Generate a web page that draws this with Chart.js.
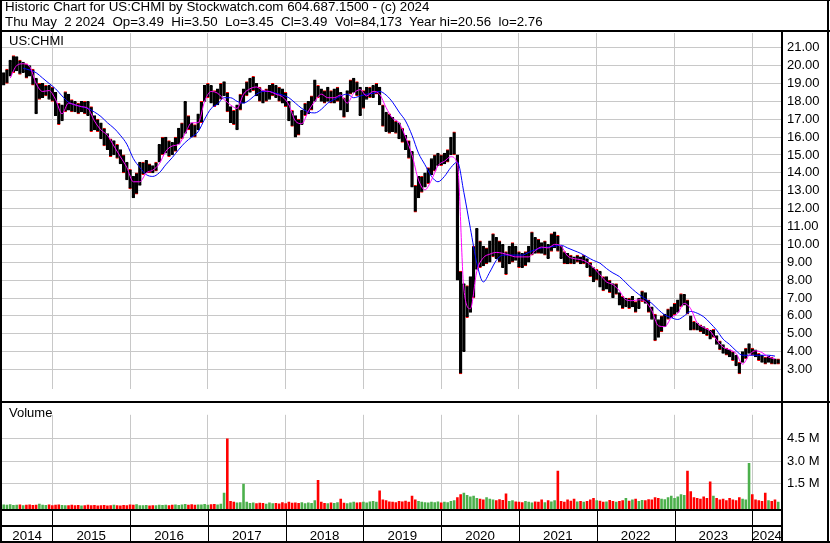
<!DOCTYPE html>
<html>
<head>
<meta charset="utf-8">
<title>US:CHMI historic chart</title>
<script src="https://cdn.jsdelivr.net/npm/chart.js@4.4.1/dist/chart.umd.min.js"></script>
<style>
  body { margin: 0; background: #fff; font-family: "Liberation Sans", Arial, sans-serif; }
  #wrap { position: relative; width: 830px; height: 543px; overflow: hidden; background: #fff; }
  canvas { position: absolute; left: 0; }
  .txt { position: absolute; white-space: pre; color: #000; font-size: 13.33px; line-height: 14px; }
  .ln { position: absolute; background: #000; }
</style>
</head>
<body>
<div id="wrap">
  <canvas id="priceChart" width="830" height="402" style="top:0"></canvas>
  <canvas id="volChart" width="830" height="141" style="top:402px"></canvas>

  <div class="txt" style="left:5px;top:0px">Historic Chart for US:CHMI by Stockwatch.com 604.687.1500 - (c) 2024</div>
  <div class="txt" style="left:5px;top:15px">Thu May  2 2024  Op=3.49  Hi=3.50  Lo=3.45  Cl=3.49  Vol=84,173  Year hi=20.56  lo=2.76</div>
  <div class="txt" style="left:9px;top:34px;font-size:13px">US:CHMI</div>
  <div class="txt" style="left:9px;top:406px;font-size:13px">Volume</div>

  <!-- frame -->
  <div class="ln" style="left:0;top:0;width:830px;height:1px"></div>
  <div class="ln" style="left:0;top:0;width:2px;height:543px"></div>
  <div class="ln" style="left:827px;top:0;width:2px;height:543px"></div>
  <div class="ln" style="left:0;top:30px;width:830px;height:2px"></div>
  <div class="ln" style="left:0;top:401px;width:830px;height:2px"></div>
  <div class="ln" style="left:781px;top:30px;width:2px;height:513px"></div>
  <div class="ln" style="left:0;top:509px;width:782px;height:2px"></div>
  <div class="ln" style="left:0;top:525px;width:782px;height:2px"></div>
  <div class="ln" style="left:0;top:541px;width:830px;height:2px"></div>
</div>

<script>
// time axis: half-month samples from mid May 2014 to Apr 2024
const firstPeriod = 2014.375;
const xMin = 2014.353;
const xMax = 2024.382;
const years = [2015, 2016, 2017, 2018, 2019, 2020, 2021, 2022, 2023, 2024];
const yearLabels = [2014, 2015, 2016, 2017, 2018, 2019, 2020, 2021, 2022, 2023, 2024];
const priceTicks = [3, 4, 5, 6, 7, 8, 9, 10, 11, 12, 13, 14, 15, 16, 17, 18, 19, 20, 21];
const volumeTicks = [1.5, 3.0, 4.5];

// half-month price range (low / high)
const lows = [
  18.9, 19.0, 19.4, 19.6, 19.7, 19.5, 19.6, 19.3, 19.4, 18.9,
  17.3, 18.1, 18.2, 18.3, 18.1, 18.0, 17.2, 16.7, 16.9, 17.4,
  17.5, 17.4, 17.4, 17.3, 17.4, 17.3, 17.2, 16.3, 16.4, 16.3,
  15.9, 15.5, 15.3, 14.9, 15.0, 14.8, 14.5, 14.0, 13.6, 13.1,
  12.6, 12.8, 13.3, 13.9, 14.0, 14.0, 14.0, 14.1, 14.6, 15.0,
  15.1, 14.9, 15.0, 15.2, 15.6, 15.9, 16.2, 16.4, 16.0, 16.0,
  16.4, 16.8, 18.0, 18.2, 17.9, 17.7, 17.8, 18.1, 18.3, 17.4,
  16.8, 16.7, 16.4, 17.5, 17.9, 18.3, 18.5, 18.6, 18.3, 18.0,
  17.9, 18.0, 18.1, 18.3, 18.2, 18.0, 17.9, 17.7, 16.9, 16.6,
  16.0, 16.1, 16.7, 17.2, 17.3, 17.5, 18.0, 18.2, 18.0, 17.9,
  18.0, 17.9, 17.9, 18.0, 17.5, 17.1, 17.4, 18.4, 18.5, 18.3,
  17.2, 17.6, 18.1, 18.2, 18.2, 18.4, 17.8, 16.6, 16.3, 16.2,
  16.3, 16.2, 15.9, 15.7, 15.3, 14.8, 13.2, 11.8, 12.6, 12.9,
  13.2, 13.4, 13.9, 14.1, 14.4, 14.4, 14.5, 14.6, 15.0, 15.0,
  8.0, 2.76, 4.0, 5.9, 6.2, 7.0, 8.6, 8.7, 8.8, 8.9,
  9.0, 9.3, 9.2, 9.0, 8.7, 8.3, 8.9, 9.0, 9.1, 8.7,
  8.7, 8.8, 9.0, 9.4, 9.5, 9.5, 9.5, 9.4, 9.2, 9.6,
  9.8, 9.6, 9.2, 8.9, 8.9, 8.9, 8.9, 9.0, 8.9, 8.9,
  8.7, 8.2, 7.9, 8.0, 7.6, 7.4, 7.5, 7.3, 7.0, 7.2,
  6.6, 6.4, 6.5, 6.4, 6.5, 6.2, 6.4, 6.8, 6.7, 6.2,
  5.8, 4.6, 4.8, 5.1, 5.4, 5.8, 5.9, 6.05, 6.2, 6.5,
  6.6, 6.1, 5.2, 5.2, 5.2, 5.1, 5.0, 4.9, 4.7, 4.8,
  4.4, 4.1, 3.9, 3.8, 3.7, 3.5, 3.2, 2.76, 3.4, 3.6,
  3.9, 3.8, 3.7, 3.5, 3.4, 3.3, 3.4, 3.3, 3.3, 3.3
];
const highs = [
  19.6, 19.8, 20.3, 20.56, 20.5, 20.3, 20.2, 20.1, 20.0, 19.8,
  19.3, 19.0, 19.0, 18.9, 18.9, 18.8, 18.5, 17.9, 17.8, 18.55,
  18.4, 18.1, 18.0, 17.9, 18.0, 18.0, 18.0, 17.7, 17.2, 17.0,
  16.8, 16.5, 16.2, 15.9, 15.8, 15.6, 15.3, 15.0, 14.6, 14.2,
  13.8, 14.0, 14.6, 14.6, 14.7, 14.5, 14.4, 14.6, 15.6, 16.0,
  16.0, 15.8, 15.7, 16.0, 16.5, 16.8, 18.0, 17.2, 16.8, 16.7,
  17.3, 18.0, 18.9, 19.0, 18.9, 18.6, 18.7, 19.0, 19.1, 18.5,
  17.7, 17.5, 17.8, 18.4, 18.7, 19.1, 19.3, 19.4, 19.0, 18.8,
  18.6, 18.7, 18.9, 19.0, 18.9, 18.8, 18.7, 18.5, 18.0, 17.5,
  17.2, 17.0, 17.5, 17.9, 18.0, 18.3, 19.2, 18.9, 18.7, 18.6,
  18.8, 18.6, 18.7, 18.8, 18.5, 18.2, 18.6, 19.2, 19.3, 19.1,
  18.8, 18.6, 18.8, 18.8, 18.9, 19.0, 18.8, 17.8, 17.4, 17.3,
  17.1, 16.9, 16.8, 16.5, 16.1, 15.8, 15.2, 13.3, 13.8, 13.8,
  14.0, 14.3, 14.8, 15.0, 15.1, 15.0, 15.1, 15.3, 16.0, 16.3,
  15.0, 8.5, 7.8, 7.7, 8.2, 9.9, 10.9, 10.2, 9.9, 9.8,
  10.2, 10.6, 10.4, 10.2, 10.0, 9.6, 9.9, 10.1, 9.9, 9.6,
  9.5, 9.6, 9.9, 10.7, 10.4, 10.3, 10.1, 10.2, 10.0, 10.6,
  10.7, 10.5, 9.9, 9.6, 9.5, 9.4, 9.3, 9.4, 9.3, 9.4,
  9.2, 9.0, 8.7, 8.6, 8.5, 8.2, 8.2, 8.0, 7.8, 7.8,
  7.3, 7.1, 7.0, 7.0, 7.1, 6.8, 7.0, 7.4, 7.3, 6.9,
  6.5, 6.1, 5.8, 6.0, 6.1, 6.4, 6.5, 6.7, 6.9, 7.25,
  7.2, 6.9, 6.0, 5.7, 5.6, 5.5, 5.4, 5.3, 5.2, 5.25,
  4.9, 4.6, 4.4, 4.2, 4.1, 4.0, 3.8, 3.4, 4.0, 4.2,
  4.45, 4.2, 4.1, 3.9, 3.8, 3.7, 3.75, 3.7, 3.6, 3.6
];

// half-month volume, millions of shares
const volumes = [
  0.12, 0.10, 0.14, 0.09, 0.11, 0.13, 0.08, 0.10, 0.12, 0.09,
  0.11, 0.18, 0.10, 0.09, 0.12, 0.08, 0.10, 0.13, 0.09, 0.07,
  0.08, 0.10, 0.07, 0.09, 0.06, 0.08, 0.10, 0.07, 0.09, 0.06,
  0.07, 0.09, 0.06, 0.08, 0.10, 0.07, 0.06, 0.09, 0.08, 0.12,
  0.10, 0.14, 0.08, 0.07, 0.09, 0.06, 0.08, 0.07, 0.10, 0.09,
  0.11, 0.08, 0.10, 0.13, 0.09, 0.12, 0.16, 0.10, 0.14, 0.11,
  0.13, 0.12, 0.15, 0.11, 0.14, 0.16, 0.12, 0.18, 0.90, 4.50,
  0.35, 0.30, 0.25, 0.28, 1.50, 0.30, 0.22, 0.26, 0.20, 0.24,
  0.22, 0.18, 0.25, 0.20, 0.23, 0.19, 0.27, 0.21, 0.30, 0.24,
  0.26, 0.22, 0.28, 0.20, 0.25, 0.23, 0.40, 1.75, 0.30, 0.22,
  0.20, 0.25, 0.22, 0.28, 0.50, 0.24, 0.21, 0.26, 0.30, 0.25,
  0.28, 0.30, 0.26, 0.33, 0.35, 0.31, 1.05, 0.45, 0.40, 0.33,
  0.30, 0.28, 0.35, 0.32, 0.38, 0.30, 0.70, 0.45, 0.35, 0.30,
  0.28, 0.25, 0.30, 0.27, 0.32, 0.26, 0.30, 0.28, 0.35, 0.40,
  0.60, 0.80, 0.90, 0.75, 0.65, 0.70, 0.55, 0.50, 0.45, 0.60,
  0.50, 0.45, 0.40, 0.48, 0.42, 0.85, 0.35, 0.40, 0.32, 0.30,
  0.28, 0.35, 0.30, 0.26, 0.33, 0.30, 0.45, 0.28, 0.40, 0.32,
  0.40, 2.36, 0.35, 0.30, 0.45, 0.38, 0.50, 0.32, 0.35, 0.30,
  0.35, 0.45, 0.55, 0.40, 0.38, 0.30, 0.33, 0.42, 0.36, 0.30,
  0.35, 0.40, 0.55, 0.38, 0.45, 0.50, 0.35, 0.42, 0.40, 0.48,
  0.45, 0.60, 0.55, 0.50, 0.48, 0.60, 0.70, 0.55, 0.65, 0.80,
  0.75, 2.36, 1.00, 0.60, 0.55, 0.50, 0.65, 0.55, 1.65, 0.70,
  0.55, 0.45, 0.50, 0.40, 0.55, 0.45, 0.40, 0.60, 0.50, 0.45,
  2.88, 0.80, 0.45, 0.40, 0.35, 0.90, 0.40, 0.35, 0.45, 0.30
];

// monthly moving averages (magenta = fast, blue = slow)
const fastMA = [
  null, 19.3, 20.0, 20.1, 19.95, 19.0, 18.55, 18.6, 18.1, 17.3,
  17.9, 17.8, 17.7, 17.6, 16.9, 16.4, 16.1, 15.5, 14.9, 14.3,
  13.5, 13.5, 14.0, 14.15, 14.5, 15.2, 15.5, 15.6, 16.2, 16.8,
  16.8, 18.0, 18.55, 18.45, 18.1, 17.8, 17.6, 18.4, 18.7, 18.8,
  18.6, 18.55, 18.4, 18.25, 17.8, 16.9, 16.75, 17.45, 18.0, 18.4,
  18.2, 18.2, 18.35, 17.9, 18.45, 18.65, 18.3, 18.55, 18.4, 17.65,
  17.05, 16.8, 16.0, 15.0, 13.6, 13.05, 13.6, 14.4, 14.65, 14.9,
  14.5, 7.5, 6.4, 8.5, 9.25, 9.45, 9.55, 9.5, 9.4, 9.3,
  9.3, 9.3, 9.65, 9.85, 9.8, 10.0, 9.9, 9.35, 9.2, 9.15,
  9.0, 8.7, 8.3, 7.9, 7.75, 7.4, 6.9, 6.85, 6.9, 6.8,
  6.3, 5.45, 5.4, 5.9, 6.15, 6.7, 6.4, 5.6, 5.35, 5.15,
  4.65, 4.25, 4.1, 3.9, 3.3, 3.8, 4.05, 3.95, 3.7, 3.6
];
const slowMA = [
  null, null, null, 19.85, 19.75, 19.6, 19.3, 19.0, 18.7, 18.3,
  17.95, 17.8, 17.7, 17.6, 17.4, 17.15, 16.8, 16.5, 16.1, 15.6,
  14.8, 14.3, 13.9, 13.8, 14.0, 14.45, 14.85, 15.3, 15.7, 16.0,
  16.3, 17.0, 17.6, 17.85, 18.2, 18.2, 18.0, 17.9, 18.1, 18.4,
  18.55, 18.55, 18.45, 18.35, 18.2, 17.9, 17.6, 17.4, 17.35, 17.55,
  17.9, 18.1, 18.3, 18.4, 18.2, 18.3, 18.4, 18.45, 18.55, 18.35,
  17.95, 17.4, 16.9, 16.1, 15.1, 14.45, 13.8, 13.5, 13.8, 14.3,
  14.6, 12.9, 10.9, 8.95, 7.9, 8.45, 9.1, 9.4, 9.4, 9.4,
  9.4, 9.55, 9.7, 9.8, 9.85, 9.9, 9.95, 9.8, 9.65, 9.5,
  9.3, 9.1, 8.95, 8.65, 8.4, 8.2, 7.85, 7.5, 7.2, 6.95,
  6.7, 6.35, 6.05, 5.9, 5.8, 6.0, 6.25, 6.15, 5.95, 5.6,
  5.2, 4.7, 4.4, 4.05, 3.8, 3.8, 3.8, 3.8, 3.8, 3.75
];

const gridColor = "#c8c8c8";
const upColor = "#4cb04c";
const downColor = "#ff0000";
const tickFont = { family: "Liberation Sans", size: 13 };

const times = lows.map((_, i) => firstPeriod + i / 24);
const maTimes = fastMA.map((_, k) => firstPeriod + k / 12);
const mids = lows.map((lo, i) => (lo + highs[i]) / 2);
const volColors = mids.map((m, i) => (i === 0 || m >= mids[i - 1]) ? upColor : downColor);

const yearAxis = {
    type: "linear",
    min: xMin,
    max: xMax,
    offset: false,
    afterBuildTicks: (scale) => { scale.ticks = years.map((v) => ({ value: v })); },
    afterFit: (scale) => { scale.height = 0; },
    ticks: { display: false },
    grid: { color: gridColor, drawTicks: false, offset: false },
    border: { display: false },
};

// Price panel
new Chart(document.getElementById("priceChart"), {
    data: {
        datasets: [
            {
                type: "line",
                data: maTimes.map((t, k) => ({ x: t, y: fastMA[k] })),
                borderColor: "#ff00ff",
                borderWidth: 1,
                pointRadius: 0,
                cubicInterpolationMode: "monotone",
                order: 0,
            },
            {
                type: "line",
                data: maTimes.map((t, k) => ({ x: t, y: slowMA[k] })),
                borderColor: "#0000ff",
                borderWidth: 1,
                pointRadius: 0,
                cubicInterpolationMode: "monotone",
                order: 1,
            },
            {
                type: "bar",
                data: times.map((t, i) => ({ x: t, y: [lows[i], highs[i]] })),
                backgroundColor: "#000000",
                // open/close ticks show as red flecks at the bar ends
                borderColor: (ctx) => (ctx.dataIndex % 2 ? "#ff0000" : "#000000"),
                borderWidth: { top: 1, bottom: 1, left: 0, right: 0 },
                borderSkipped: false,
                barPercentage: 1,
                categoryPercentage: 1,
                order: 2,
            },
        ],
    },
    options: {
        responsive: false,
        animation: false,
        devicePixelRatio: 1,
        layout: { padding: { top: 33, left: 2, right: 0, bottom: 1 } },
        plugins: { legend: { display: false }, tooltip: { enabled: false } },
        scales: {
            x: yearAxis,
            y: {
                position: "right",
                min: 1.9,
                max: 21.82,
                afterBuildTicks: (scale) => { scale.ticks = priceTicks.map((v) => ({ value: v })); },
                afterFit: (scale) => { scale.width = 48; },
                ticks: { font: tickFont, color: "#000", padding: 5, callback: (v) => v.toFixed(2) },
                grid: { color: gridColor, drawTicks: false },
                border: { display: false },
            },
        },
    },
});

// year cells below the volume panel
const yearCells = {
    id: "yearCells",
    afterDraw(chart) {
        const ctx = chart.ctx;
        const x = chart.scales.x;
        ctx.save();
        ctx.strokeStyle = "#000";
        ctx.lineWidth = 1;
        years.forEach((yr) => {
            const px = Math.round(x.getPixelForValue(yr)) + 0.5;
            ctx.beginPath();
            ctx.moveTo(px, chart.chartArea.bottom);
            ctx.lineTo(px, chart.height);
            ctx.stroke();
        });
        ctx.restore();
    },
};

// Volume panel
new Chart(document.getElementById("volChart"), {
    type: "bar",
    data: {
        datasets: [{
            data: times.map((t, i) => ({ x: t, y: volumes[i] })),
            backgroundColor: volColors,
            base: -0.175,
            barPercentage: 0.8,
            categoryPercentage: 1,
        }],
    },
    options: {
        responsive: false,
        animation: false,
        devicePixelRatio: 1,
        layout: { padding: { top: 0, left: 2, right: 0, bottom: 0 } },
        plugins: { legend: { display: false }, tooltip: { enabled: false } },
        scales: {
            x: yearAxis,
            xl: {
                type: "linear",
                position: "bottom",
                min: xMin,
                max: xMax,
                offset: false,
                afterBuildTicks: (scale) => {
                    scale.ticks = yearLabels.map((y) => ({
                        value: (Math.max(xMin, y) + Math.min(xMax, y + 1)) / 2,
                    }));
                },
                afterFit: (scale) => {
                    scale.height = 34;
                    scale.paddingLeft = 0;
                    scale.paddingRight = 0;
                },
                ticks: {
                    font: { family: "Liberation Sans", size: 13.33 },
                    color: "#000",
                    padding: 19,
                    autoSkip: false,
                    maxRotation: 0,
                    callback: (v) => String(Math.floor(v)),
                },
                grid: { display: false, drawTicks: false },
                border: { display: false },
            },
            y: {
                position: "right",
                min: -0.175,
                max: 6.08,
                afterBuildTicks: (scale) => { scale.ticks = volumeTicks.map((v) => ({ value: v })); },
                afterFit: (scale) => { scale.width = 48; },
                ticks: { font: tickFont, color: "#000", padding: 5, callback: (v) => v.toFixed(1) + " M" },
                grid: { color: gridColor, drawTicks: false },
                border: { display: false },
            },
        },
    },
    plugins: [yearCells],
});
</script>
</body>
</html>
